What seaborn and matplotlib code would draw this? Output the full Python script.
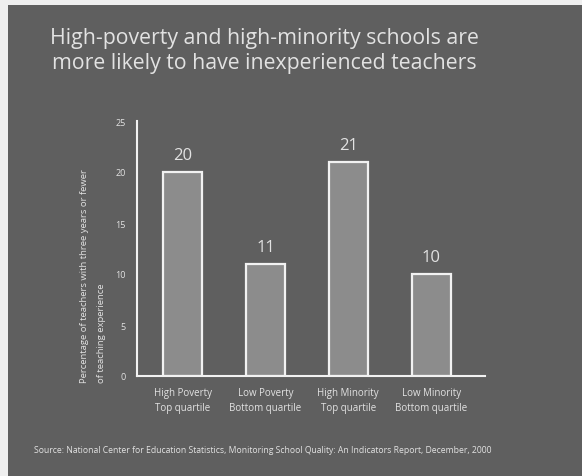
import matplotlib
matplotlib.use("Agg")
import matplotlib.pyplot as plt
import seaborn as sns
import pandas as pd
from matplotlib.patches import Rectangle

categories = ["High Poverty\nTop quartile", "Low Poverty\nBottom quartile",
              "High Minority\nTop quartile", "Low Minority\nBottom quartile"]
values = [20, 11, 21, 10]
yticks = [0, 5, 10, 15, 20, 25]

title = "High-poverty and high-minority schools are\nmore likely to have inexperienced teachers"
ylabel = "Percentage of teachers with three years or fewer\nof teaching experience"
source = ("Source: National Center for Education Statistics, Monitoring School Quality: "
          "An Indicators Report, December, 2000")

sns.set_theme(style="white")
plt.rcParams['font.family'] = ['Open Sans', 'DejaVu Sans']

BG = "#5f5f5f"
TXT = "#e2e2e2"

fig = plt.figure(figsize=(5.82, 4.77), dpi=100)
fig.patch.set_facecolor("#efefef")
fig.patches.append(Rectangle((8 / 582, 0), 1, (477 - 6) / 477, transform=fig.transFigure,
                             facecolor=BG, edgecolor="none", zorder=-10))

ax = fig.add_axes([137 / 582, 100 / 477, 348 / 582, 255 / 477])
ax.set_facecolor("none")

df = pd.DataFrame({"cat": categories, "val": values})
sns.barplot(data=df, x="cat", y="val", ax=ax, color="#8c8c8c", width=0.47,
            edgecolor="#f2f2f2", linewidth=1.6, saturation=1)

for i, v in enumerate(values):
    ax.text(i, v + 0.9, str(v), ha="center", va="bottom", color=TXT, fontsize=12)

ax.set_xlim(-0.55, 3.65)
ax.set_ylim(0, 25)
ax.set_yticks(yticks)
ax.set_yticklabels([str(t) for t in yticks], fontsize=6.5, color=TXT)
ax.tick_params(axis="x", length=0, pad=8, labelsize=7, labelcolor=TXT)
for lab in ax.get_xticklabels():
    lab.set_linespacing(1.45)
ax.tick_params(axis="y", length=0, pad=8)
ax.set_xlabel("")
ax.set_ylabel("")

# y-axis title, left-aligned at the bottom like the reference
fig.text(93 / 582, 1 - 383 / 477, ylabel, rotation=90, ha="center", va="bottom",
         multialignment="left", color=TXT, fontsize=6.8, linespacing=2.1,
         rotation_mode="default")

for s in ["top", "right"]:
    ax.spines[s].set_visible(False)
for s in ["left", "bottom"]:
    ax.spines[s].set_color("#f2f2f2")
    ax.spines[s].set_linewidth(1.5)

fig.text(264 / 582, 1 - 51 / 477, title, ha="center", va="center", color=TXT,
         fontsize=15.3, linespacing=1.25)
fig.text(263 / 582, 1 - 451 / 477, source, ha="center", va="center", color=TXT,
         fontsize=6.2)

fig.savefig("out.png", dpi=100, facecolor=fig.get_facecolor())
